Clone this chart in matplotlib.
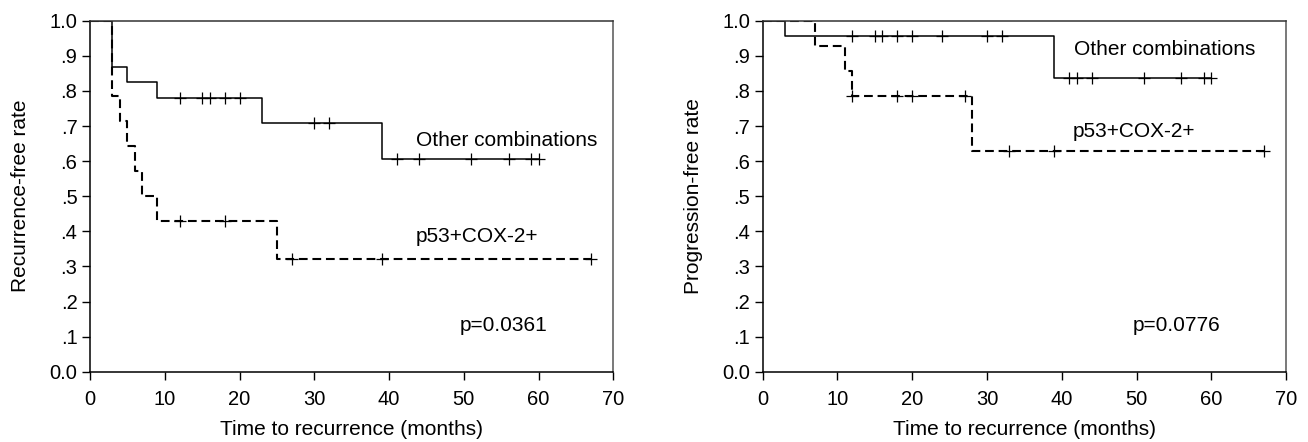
import matplotlib.pyplot as plt
import numpy as np

plt.rcParams['font.family'] = ['Liberation Sans', 'DejaVu Sans']

# Left panel: recurrence-free rate (step times and survival levels)
rf_other_t = [0, 3, 5, 9, 23, 39, 60]
rf_other_s = [1.0, 0.867, 0.825, 0.780, 0.709, 0.607, 0.607]
rf_other_cens = [12, 15, 16, 18, 20, 30, 32, 41, 44, 51, 56, 59, 60]

rf_p53_t = [0, 3, 4, 5, 6, 7, 9, 25, 67]
rf_p53_s = [1.0, 0.786, 0.714, 0.643, 0.571, 0.500, 0.429, 0.321, 0.321]
rf_p53_cens = [12, 18, 27, 39, 67]

# Right panel: progression-free rate
pf_other_t = [0, 3, 39, 60]
pf_other_s = [1.0, 0.957, 0.836, 0.836]
pf_other_cens = [12, 15, 16, 18, 20, 24, 30, 32, 41, 42, 44, 51, 56, 59, 60]

pf_p53_t = [0, 7, 11, 12, 28, 67]
pf_p53_s = [1.0, 0.929, 0.857, 0.786, 0.629, 0.629]
pf_p53_cens = [12, 18, 20, 27, 33, 39, 67]

yticks = [0.0, 0.1, 0.2, 0.3, 0.4, 0.5, 0.6, 0.7, 0.8, 0.9, 1.0]
ytick_labels = ['0.0', '.1', '.2', '.3', '.4', '.5', '.6', '.7', '.8', '.9', '1.0']
xticks = [0, 10, 20, 30, 40, 50, 60, 70]


def level_at(t_steps, s_steps, t):
    # survival level of a step curve at the censoring times
    idx = np.searchsorted(t_steps, t, side='right') - 1
    return np.array(s_steps)[idx]


fig = plt.figure(figsize=(13.08, 4.42), dpi=100)
ax1 = fig.add_axes([0.0688, 0.159, 0.4001, 0.794])
ax2 = fig.add_axes([0.5831, 0.159, 0.4001, 0.794])

panels = [
    (ax1, rf_other_t, rf_other_s, rf_other_cens, rf_p53_t, rf_p53_s, rf_p53_cens,
     'Recurrence-free rate', 'p=0.0361', (43.6, 0.66), (43.6, 0.385)),
    (ax2, pf_other_t, pf_other_s, pf_other_cens, pf_p53_t, pf_p53_s, pf_p53_cens,
     'Progression-free rate', 'p=0.0776', (41.6, 0.918), (41.5, 0.685)),
]

for ax, ot, os_, oc, pt, ps, pc, ylab, ptxt, opos, ppos in panels:
    ax.step(ot, os_, where='post', color='black', lw=1.1)
    ax.plot(oc, level_at(ot, os_, oc), '+', color='black', ms=8, mew=0.9)
    ax.step(pt, ps, where='post', color='black', lw=1.5, linestyle=(0, (4.2, 2.3)))
    ax.plot(pc, level_at(pt, ps, pc), '+', color='black', ms=8, mew=0.9)

    ax.set_xlim(0, 70)
    ax.set_ylim(0, 1.0)
    ax.set_xticks(xticks)
    ax.set_yticks(yticks)
    ax.set_yticklabels(ytick_labels)
    ax.tick_params(direction='out', length=6, width=1, labelsize=14.5, pad=3)
    ax.tick_params(axis='x', pad=7)
    for sp in ax.spines.values():
        sp.set_linewidth(1.1)
    ax.spines['right'].set_color('#555555')
    ax.spines['top'].set_color('#333333')
    ax.set_ylabel(ylab, fontsize=15, labelpad=14)
    ax.set_xlabel('Time to recurrence (months)', fontsize=15, labelpad=8)
    ax.text(opos[0], opos[1], 'Other combinations', fontsize=15, va='center', ha='left')
    ax.text(ppos[0], ppos[1], 'p53+COX-2+', fontsize=15, va='center', ha='left')
    ax.text(49.5, 0.132, ptxt, fontsize=15, va='center', ha='left')

fig.savefig('out.png', dpi=100)
